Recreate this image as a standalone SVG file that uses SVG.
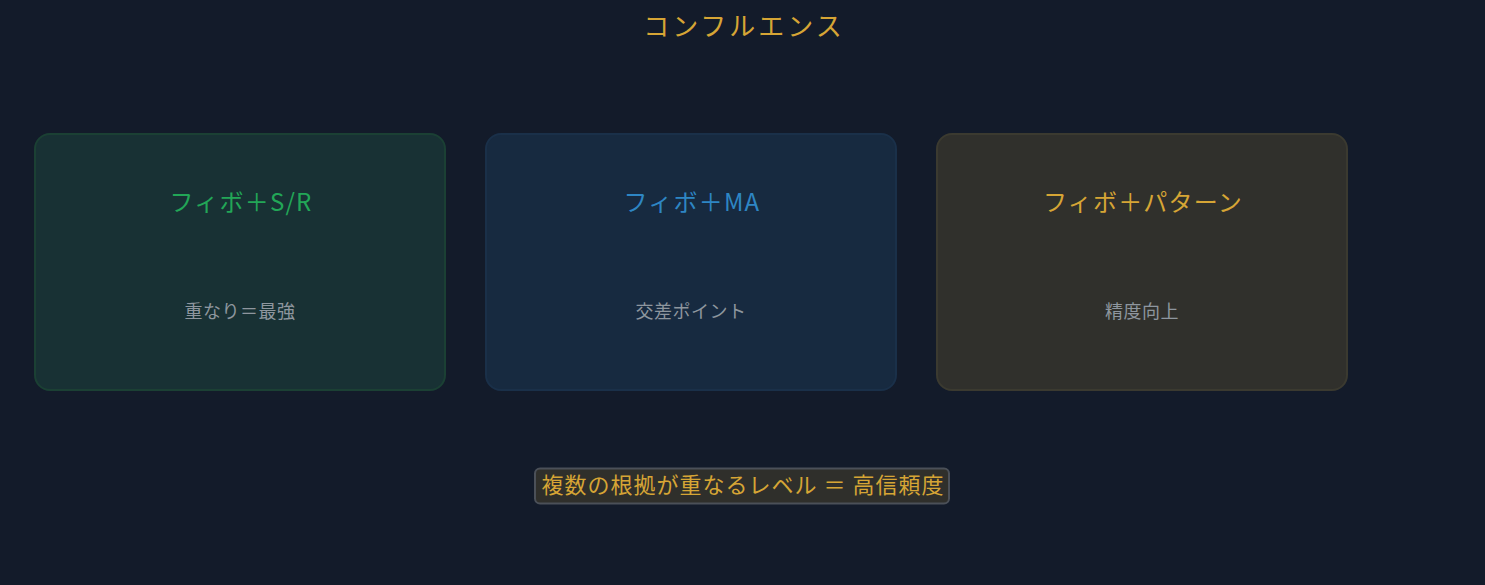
<svg xmlns="http://www.w3.org/2000/svg" width="1485" height="585" viewBox="0 0 1485 585">
<style>
text{font-family:"Noto Sans CJK JP","Noto Sans",sans-serif;text-anchor:middle}
.t{font-size:26px;fill:#d6a535;letter-spacing:3px}
.h{font-size:24px;letter-spacing:1.2px}
.s{font-size:18px;fill:#8e969e;letter-spacing:0.5px}
.card{stroke-width:2}
</style>
<rect width="1485" height="585" fill="#131b2a"/>
<text class="t" x="744" y="36">コンフルエンス</text>
<g id="node-sr">
<rect class="card" x="35" y="134" width="410" height="256" rx="15" fill="#183134" stroke="#1b4034"/>
<text class="h" x="241" y="211" fill="#22a657">フィボ＋S/R</text>
<text class="s" x="240" y="318">重なり＝最強</text>
</g>
<g id="node-ma">
<rect class="card" x="486" y="134" width="410" height="256" rx="15" fill="#172a40" stroke="#1a3049"/>
<text class="h" x="692" y="211" fill="#2e86c4">フィボ＋MA</text>
<text class="s" x="691" y="318">交差ポイント</text>
</g>
<g id="node-pattern">
<rect class="card" x="937" y="134" width="410" height="256" rx="15" fill="#30302c" stroke="#3b3a30"/>
<text class="h" x="1143" y="211" fill="#d6a535">フィボ＋パターン</text>
<text class="s" x="1142" y="318">精度向上</text>
</g>
<g id="connectors"></g>
<g id="note">
<rect x="535" y="468.5" width="414" height="35" rx="5" fill="#2f2f2b" stroke="#4b5058" stroke-width="2"/>
<text x="743" y="493" font-size="22" fill="#d6a535" letter-spacing="1">複数の根拠が重なるレベル ＝ 高信頼度</text>
</g>
</svg>
